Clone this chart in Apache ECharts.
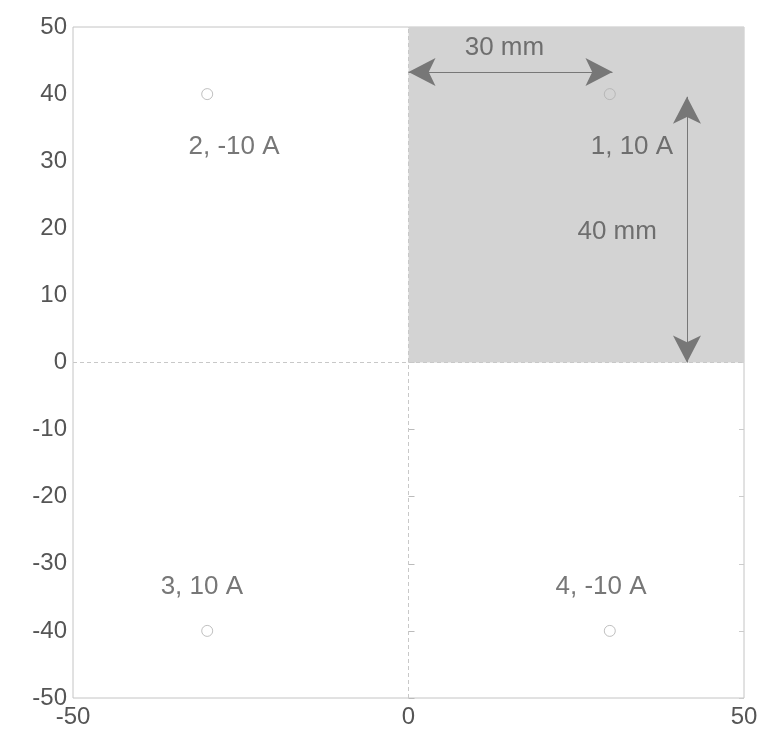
<!DOCTYPE html>
<html>
<head>
<meta charset="utf-8">
<title>coils</title>
<script src="https://cdn.jsdelivr.net/npm/echarts@6/dist/echarts.min.js"></script>
</head>
<body style="margin:0;background:#fff">
<div id="main" style="width:761px;height:732px"></div>
<script>
// conductor positions (mm) and their labels
var pointsX = [30, -30, -30, 30];
var pointsY = [40, 40, -40, -40];
var labelText = ['1, 10 A', '2, -10 A', '3, 10 A', '4, -10 A'];
var labelX = [33.3, -26, -30.8, 28.7];
var labelY = [32.1, 32.1, -33.5, -33.5];

// shaded quadrant and dimension arrows
var shadeFrom = [0, 0];
var shadeTo = [50, 50];
var dimText = ['30 mm', '40 mm'];
var dimTextX = [14.3, 31.1];
var dimTextY = [46.9, 19.5];
var arrowH = [[0, 43.3], [30.4, 43.3]];
var arrowV = [[41.5, 39.6], [41.5, 0]];

var axisTicks = [-50, -40, -30, -20, -10, 0, 10, 20, 30, 40, 50];

var chart = echarts.init(document.getElementById('main'));

var txt = { color: '#555', fontFamily: 'Liberation Sans, Arial', fontSize: 24 };

var option = {
  animation: false,
  grid: { left: 73, right: 17, top: 27, bottom: 34, show: true, borderColor: '#c4c4c4', borderWidth: 1 },
  xAxis: {
    type: 'value', min: -50, max: 50, interval: 50,
    axisLine: { show: false }, axisTick: { show: false }, splitLine: { show: false },
    axisLabel: Object.assign({ margin: 7 }, txt)
  },
  yAxis: [{
    type: 'value', min: -50, max: 50, interval: 10,
    axisLine: { show: false },
    axisTick: { show: true, inside: true, length: 6, lineStyle: { color: '#bbb' } },
    splitLine: { show: false },
    axisLabel: Object.assign({ margin: 6, formatter: function (v) { return axisTicks.indexOf(v) >= 0 ? v : ''; } }, txt)
  }, {
    type: 'value', min: -50, max: 50, interval: 10, position: 'right',
    axisLine: { show: false },
    axisTick: { show: true, inside: true, length: 5, lineStyle: { color: '#ccc' } },
    splitLine: { show: false }, axisLabel: { show: false }
  }],
  series: [
    {
      type: 'scatter',
      data: pointsX.map(function (x, i) { return [x, pointsY[i]]; }),
      symbol: 'circle', symbolSize: 11,
      itemStyle: { color: 'rgba(255,255,255,0)', borderColor: '#b0b0b0', borderWidth: 1 },
      z: 5,
      markArea: {
        silent: true,
        itemStyle: { color: '#d3d3d3' },
        data: [[{ coord: shadeFrom }, { coord: shadeTo }]]
      },
      markLine: {
        silent: true, symbol: 'none', label: { show: false },
        lineStyle: { color: '#c8c8c8', type: [4, 3], width: 1 },
        data: [{ xAxis: 0 }, { yAxis: 0 }]
      }
    },
    {
      type: 'scatter',
      data: labelText.map(function (t, i) { return [labelX[i], labelY[i], t]; }),
      symbolSize: 0,
      label: Object.assign({ show: true, position: 'inside', formatter: function (p) { return p.value[2]; } }, txt, { fontSize: 26 }),
      z: 6
    },
    {
      type: 'scatter',
      data: dimText.map(function (t, i) { return [dimTextX[i], dimTextY[i], t]; }),
      symbolSize: 0,
      label: Object.assign({ show: true, position: 'inside', formatter: function (p) { return p.value[2]; } }, txt, { fontSize: 26 }),
      z: 6,
      markLine: {
        silent: true,
        symbol: ['arrow', 'arrow'], symbolSize: [21, 27],
        label: { show: false },
        lineStyle: { color: '#777', type: 'solid', width: 1 },
        itemStyle: { color: '#555' },
        data: [
          [{ coord: arrowH[0] }, { coord: arrowH[1] }],
          [{ coord: arrowV[0] }, { coord: arrowV[1] }]
        ]
      }
    }
  ]
};

chart.setOption(option);
</script>
</body>
</html>
